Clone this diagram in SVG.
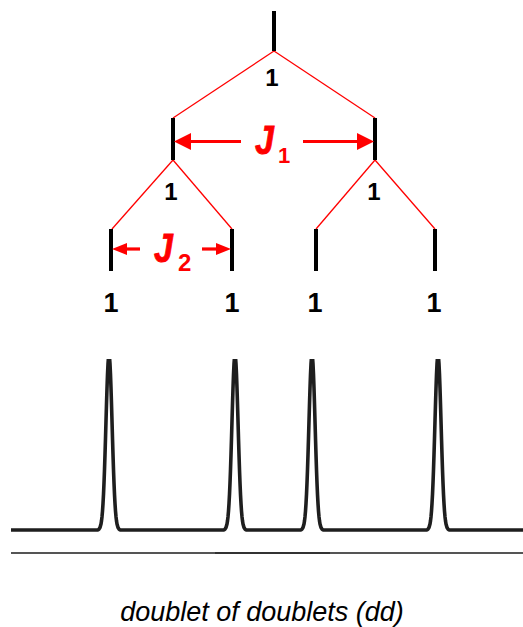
<svg xmlns="http://www.w3.org/2000/svg" width="523" height="627" viewBox="0 0 523 627">
<style>
.bar{stroke:#000;stroke-width:4;fill:none}
.red{stroke:#ff0000;stroke-width:1.3;fill:none}
.arr{stroke:#ff0000;stroke-width:3.2;fill:none}
.head{fill:#ff0000}
.num{font-family:"Liberation Sans",Arial,sans-serif;font-weight:bold;fill:#000;text-anchor:middle}
.j{font-family:"Liberation Sans",Arial,sans-serif;font-weight:bold;font-style:italic;fill:#ff0000;stroke:#ff0000;stroke-width:0.8}
.sub{font-family:"Liberation Sans",Arial,sans-serif;font-weight:bold;fill:#ff0000}
.spec{stroke:#1e1e1e;stroke-width:3.6;fill:none;stroke-linejoin:round}
.cap{font-family:"Liberation Sans",Arial,sans-serif;font-style:italic;font-size:27px;fill:#000;text-anchor:middle}
</style>
<defs>
<clipPath id="clip"><rect x="0" y="359" width="523" height="200"/></clipPath>
</defs>
<g id="connectors">
<line class="red" x1="274" y1="51" x2="173" y2="118"/>
<line class="red" x1="274" y1="51" x2="375" y2="118"/>
<line class="red" x1="173" y1="160" x2="112" y2="229"/>
<line class="red" x1="173" y1="160" x2="232" y2="229"/>
<line class="red" x1="375" y1="160" x2="316" y2="229"/>
<line class="red" x1="375" y1="160" x2="435" y2="229"/>
</g>
<g id="n0">
<line class="bar" x1="274" y1="11" x2="274" y2="51"/>
<text class="num" x="272" y="86" font-size="24">1</text>
</g>
<g id="n1a">
<line class="bar" x1="173" y1="118" x2="173" y2="160"/>
<text class="num" x="171" y="200" font-size="24">1</text>
</g>
<g id="n1b">
<line class="bar" x1="375" y1="118" x2="375" y2="160"/>
<text class="num" x="374" y="200" font-size="24">1</text>
</g>
<g id="n2a">
<line class="bar" x1="111" y1="229" x2="111" y2="271"/>
<text class="num" x="111" y="312" font-size="27">1</text>
</g>
<g id="n2b">
<line class="bar" x1="232" y1="229" x2="232" y2="271"/>
<text class="num" x="232" y="312" font-size="27">1</text>
</g>
<g id="n2c">
<line class="bar" x1="316" y1="229" x2="316" y2="271"/>
<text class="num" x="315" y="312" font-size="27">1</text>
</g>
<g id="n2d">
<line class="bar" x1="435" y1="229" x2="435" y2="271"/>
<text class="num" x="434" y="312" font-size="27">1</text>
</g>
<g id="J1">
<line class="arr" x1="241" y1="141.5" x2="188" y2="141.5"/>
<polygon class="head" points="174,141.5 191,133 191,150"/>
<line class="arr" x1="303" y1="141.5" x2="360" y2="141.5"/>
<polygon class="head" points="374,141.5 357,133 357,150"/>
<text class="j" transform="translate(255,154) scale(0.85,1)" font-size="40">J</text>
<text class="sub" x="278" y="163" font-size="22">1</text>
</g>
<g id="J2">
<line class="arr" x1="140" y1="249" x2="124" y2="249"/>
<polygon class="head" points="112,249 127,243 127,255"/>
<line class="arr" x1="202" y1="249" x2="219" y2="249"/>
<polygon class="head" points="231,249 216,243 216,255"/>
<text class="j" transform="translate(154,262) scale(0.85,1)" font-size="40">J</text>
<text class="sub" x="178" y="271" font-size="24">2</text>
</g>
<g id="spectrum">
<path class="spec" clip-path="url(#clip)" d="M11 530 H98 l1 -0.9 l1 -1.6 l1 -3.5 l0.5 -3.1 l0.5 -4.2 l0.5 -5.6 l0.5 -7.4 l0.5 -9.3 l0.5 -11.4 l0.5 -13.3 l0.5 -15.1 l0.5 -16.4 l0.5 -17.2 l0.5 -17 l0.5 -15.8 l0.5 -13.7 l0.5 -10.5 l0.5 -6.7 l0.5 -2.3 l0.5 2.3 l0.5 6.7 l0.5 10.5 l0.5 13.7 l0.5 15.8 l0.5 17 l0.5 17.2 l0.5 16.4 l0.5 15.1 l0.5 13.3 l0.5 11.4 l0.5 9.3 l0.5 7.4 l0.5 5.6 l0.5 4.2 l0.5 3.1 l1 3.5 l1 1.6 l1 0.9 H224 l1 -0.9 l1 -1.6 l1 -3.5 l0.5 -3.1 l0.5 -4.2 l0.5 -5.6 l0.5 -7.4 l0.5 -9.3 l0.5 -11.4 l0.5 -13.3 l0.5 -15.1 l0.5 -16.4 l0.5 -17.2 l0.5 -17 l0.5 -15.8 l0.5 -13.7 l0.5 -10.5 l0.5 -6.7 l0.5 -2.3 l0.5 2.3 l0.5 6.7 l0.5 10.5 l0.5 13.7 l0.5 15.8 l0.5 17 l0.5 17.2 l0.5 16.4 l0.5 15.1 l0.5 13.3 l0.5 11.4 l0.5 9.3 l0.5 7.4 l0.5 5.6 l0.5 4.2 l0.5 3.1 l1 3.5 l1 1.6 l1 0.9 H301 l1 -0.9 l1 -1.6 l1 -3.5 l0.5 -3.1 l0.5 -4.2 l0.5 -5.6 l0.5 -7.4 l0.5 -9.3 l0.5 -11.4 l0.5 -13.3 l0.5 -15.1 l0.5 -16.4 l0.5 -17.2 l0.5 -17 l0.5 -15.8 l0.5 -13.7 l0.5 -10.5 l0.5 -6.7 l0.5 -2.3 l0.5 2.3 l0.5 6.7 l0.5 10.5 l0.5 13.7 l0.5 15.8 l0.5 17 l0.5 17.2 l0.5 16.4 l0.5 15.1 l0.5 13.3 l0.5 11.4 l0.5 9.3 l0.5 7.4 l0.5 5.6 l0.5 4.2 l0.5 3.1 l1 3.5 l1 1.6 l1 0.9 H427 l1 -0.9 l1 -1.6 l1 -3.5 l0.5 -3.1 l0.5 -4.2 l0.5 -5.6 l0.5 -7.4 l0.5 -9.3 l0.5 -11.4 l0.5 -13.3 l0.5 -15.1 l0.5 -16.4 l0.5 -17.2 l0.5 -17 l0.5 -15.8 l0.5 -13.7 l0.5 -10.5 l0.5 -6.7 l0.5 -2.3 l0.5 2.3 l0.5 6.7 l0.5 10.5 l0.5 13.7 l0.5 15.8 l0.5 17 l0.5 17.2 l0.5 16.4 l0.5 15.1 l0.5 13.3 l0.5 11.4 l0.5 9.3 l0.5 7.4 l0.5 5.6 l0.5 4.2 l0.5 3.1 l1 3.5 l1 1.6 l1 0.9 H523"/>
<line x1="11" y1="553" x2="523" y2="553" stroke="#555" stroke-width="2"/>
<line x1="215" y1="553" x2="330" y2="553" stroke="#333" stroke-width="2"/>
</g>
<text class="cap" x="262" y="621">doublet of doublets (dd)</text>
</svg>
